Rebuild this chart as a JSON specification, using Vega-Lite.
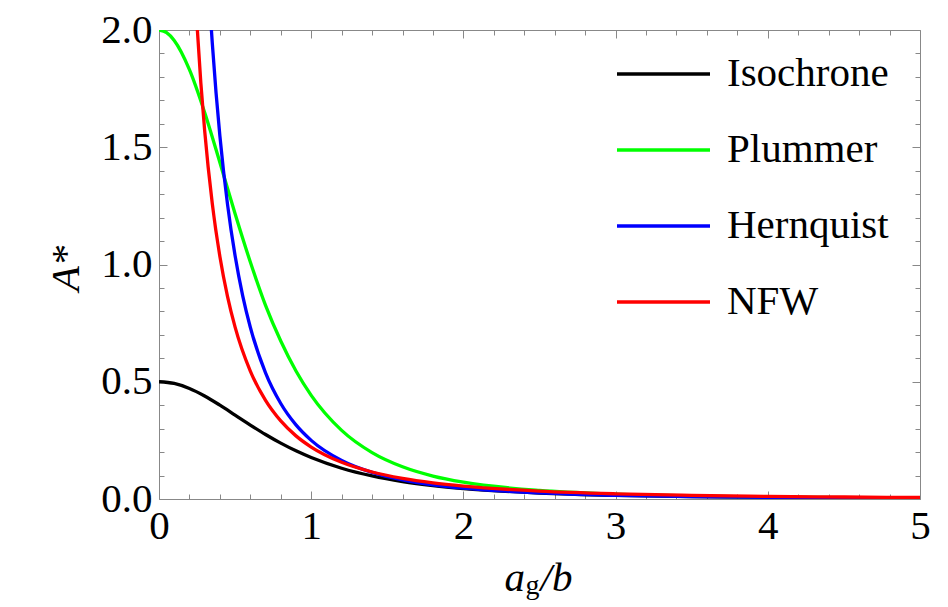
{
  "$schema": "https://vega.github.io/schema/vega-lite/v6.json",
  "width": 761,
  "height": 469,
  "autosize": "none",
  "padding": {"left": 159, "top": 30, "right": 28, "bottom": 108},
  "background": "white",
  "config": {
    "view": {"stroke": "#888888", "strokeWidth": 1},
    "axis": {
      "grid": false,
      "domain": false,
      "tickColor": "#888888",
      "tickWidth": 1,
      "labelFont": "Liberation Serif",
      "labelFontSize": 41,
      "labelColor": "black",
      "labelFlush": false,
      "labelOverlap": false,
      "titleColor": "black",
      "titleFontWeight": "normal"
    }
  },
  "layer": [
    {
      "data": {
        "values": [
          {"model": "Isochrone", "a": 0, "A": 0.5},
          {"model": "Isochrone", "a": 0.1, "A": 0.4926},
          {"model": "Isochrone", "a": 0.2, "A": 0.4714},
          {"model": "Isochrone", "a": 0.3, "A": 0.4394},
          {"model": "Isochrone", "a": 0.4, "A": 0.4002},
          {"model": "Isochrone", "a": 0.5, "A": 0.3578},
          {"model": "Isochrone", "a": 0.6, "A": 0.3153},
          {"model": "Isochrone", "a": 0.7, "A": 0.2749},
          {"model": "Isochrone", "a": 0.8, "A": 0.2381},
          {"model": "Isochrone", "a": 0.9, "A": 0.2053},
          {"model": "Isochrone", "a": 1.0, "A": 0.1768},
          {"model": "Isochrone", "a": 1.2, "A": 0.1312},
          {"model": "Isochrone", "a": 1.4, "A": 0.0982},
          {"model": "Isochrone", "a": 1.6, "A": 0.0744},
          {"model": "Isochrone", "a": 1.8, "A": 0.0573},
          {"model": "Isochrone", "a": 2.0, "A": 0.0447},
          {"model": "Isochrone", "a": 2.5, "A": 0.0256},
          {"model": "Isochrone", "a": 3.0, "A": 0.0158},
          {"model": "Isochrone", "a": 3.5, "A": 0.0104},
          {"model": "Isochrone", "a": 4.0, "A": 0.0071},
          {"model": "Isochrone", "a": 4.5, "A": 0.0051},
          {"model": "Isochrone", "a": 5.0, "A": 0.0038},
          {"model": "Plummer", "a": 0, "A": 2.0},
          {"model": "Plummer", "a": 0.05, "A": 1.9888},
          {"model": "Plummer", "a": 0.1, "A": 1.9557},
          {"model": "Plummer", "a": 0.2, "A": 1.8313},
          {"model": "Plummer", "a": 0.3, "A": 1.6486},
          {"model": "Plummer", "a": 0.4, "A": 1.4353},
          {"model": "Plummer", "a": 0.5, "A": 1.2164},
          {"model": "Plummer", "a": 0.6, "A": 1.0107},
          {"model": "Plummer", "a": 0.7, "A": 0.8254},
          {"model": "Plummer", "a": 0.8, "A": 0.6735},
          {"model": "Plummer", "a": 0.9, "A": 0.5457},
          {"model": "Plummer", "a": 1.0, "A": 0.4419},
          {"model": "Plummer", "a": 1.2, "A": 0.2925},
          {"model": "Plummer", "a": 1.4, "A": 0.1977},
          {"model": "Plummer", "a": 1.6, "A": 0.1372},
          {"model": "Plummer", "a": 1.8, "A": 0.0978},
          {"model": "Plummer", "a": 2.0, "A": 0.0716},
          {"model": "Plummer", "a": 2.5, "A": 0.0362},
          {"model": "Plummer", "a": 3.0, "A": 0.0206},
          {"model": "Plummer", "a": 3.5, "A": 0.0127},
          {"model": "Plummer", "a": 4.0, "A": 0.0084},
          {"model": "Plummer", "a": 4.5, "A": 0.0058},
          {"model": "Plummer", "a": 5.0, "A": 0.0042},
          {"model": "Hernquist", "a": 0.33, "A": 2.1446},
          {"model": "Hernquist", "a": 0.34, "A": 2.0414},
          {"model": "Hernquist", "a": 0.35, "A": 1.9451},
          {"model": "Hernquist", "a": 0.375, "A": 1.731},
          {"model": "Hernquist", "a": 0.4, "A": 1.5488},
          {"model": "Hernquist", "a": 0.45, "A": 1.2574},
          {"model": "Hernquist", "a": 0.5, "A": 1.037},
          {"model": "Hernquist", "a": 0.55, "A": 0.8666},
          {"model": "Hernquist", "a": 0.6, "A": 0.7324},
          {"model": "Hernquist", "a": 0.7, "A": 0.5379},
          {"model": "Hernquist", "a": 0.8, "A": 0.4072},
          {"model": "Hernquist", "a": 0.9, "A": 0.3159},
          {"model": "Hernquist", "a": 1.0, "A": 0.25},
          {"model": "Hernquist", "a": 1.2, "A": 0.1644},
          {"model": "Hernquist", "a": 1.4, "A": 0.1137},
          {"model": "Hernquist", "a": 1.6, "A": 0.0818},
          {"model": "Hernquist", "a": 1.8, "A": 0.0607},
          {"model": "Hernquist", "a": 2.0, "A": 0.0463},
          {"model": "Hernquist", "a": 2.5, "A": 0.0257},
          {"model": "Hernquist", "a": 3.0, "A": 0.0156},
          {"model": "Hernquist", "a": 3.5, "A": 0.0102},
          {"model": "Hernquist", "a": 4.0, "A": 0.007},
          {"model": "Hernquist", "a": 4.5, "A": 0.005},
          {"model": "Hernquist", "a": 5.0, "A": 0.0037},
          {"model": "NFW", "a": 0.24, "A": 2.1348},
          {"model": "NFW", "a": 0.25, "A": 2.0206},
          {"model": "NFW", "a": 0.275, "A": 1.7738},
          {"model": "NFW", "a": 0.3, "A": 1.5713},
          {"model": "NFW", "a": 0.35, "A": 1.2602},
          {"model": "NFW", "a": 0.4, "A": 1.0343},
          {"model": "NFW", "a": 0.45, "A": 0.8644},
          {"model": "NFW", "a": 0.5, "A": 0.733},
          {"model": "NFW", "a": 0.6, "A": 0.5454},
          {"model": "NFW", "a": 0.7, "A": 0.4204},
          {"model": "NFW", "a": 0.8, "A": 0.3329},
          {"model": "NFW", "a": 0.9, "A": 0.2692},
          {"model": "NFW", "a": 1.0, "A": 0.2216},
          {"model": "NFW", "a": 1.2, "A": 0.1564},
          {"model": "NFW", "a": 1.4, "A": 0.1152},
          {"model": "NFW", "a": 1.6, "A": 0.0878},
          {"model": "NFW", "a": 1.8, "A": 0.0686},
          {"model": "NFW", "a": 2.0, "A": 0.0548},
          {"model": "NFW", "a": 2.5, "A": 0.0336},
          {"model": "NFW", "a": 3.0, "A": 0.0222},
          {"model": "NFW", "a": 3.5, "A": 0.0155},
          {"model": "NFW", "a": 4.0, "A": 0.0113},
          {"model": "NFW", "a": 4.5, "A": 0.0085},
          {"model": "NFW", "a": 5.0, "A": 0.0066}
        ]
      },
      "mark": {"type": "line", "interpolate": "monotone", "clip": true, "strokeWidth": 3.3},
      "encoding": {
        "x": {
          "field": "a",
          "type": "quantitative",
          "scale": {"domain": [0, 5], "nice": false, "zero": false},
          "axis": {
            "orient": "bottom",
            "values": [0, 1, 2, 3, 4, 5],
            "format": "d",
            "tickSize": -8,
            "labelPadding": 15,
            "title": "a",
            "titleFont": "Liberation Serif",
            "titleFontStyle": "italic",
            "titleFontSize": 41,
            "titleAlign": "left",
            "titleBaseline": "alphabetic",
            "titleX": 345,
            "titleY": 91
          }
        },
        "y": {
          "field": "A",
          "type": "quantitative",
          "scale": {"domain": [0, 2], "nice": false, "zero": false},
          "axis": {
            "orient": "left",
            "values": [0, 0.5, 1, 1.5, 2],
            "format": ".1f",
            "tickSize": -8,
            "labelPadding": 15,
            "title": "A*",
            "titleFont": "Liberation Serif",
            "titleFontStyle": "italic",
            "titleFontSize": 41,
            "titleAngle": 270,
            "titleAlign": "center",
            "titleBaseline": "alphabetic",
            "titleX": -81,
            "titleY": 238
          }
        },
        "color": {
          "field": "model",
          "type": "nominal",
          "scale": {
            "domain": ["Isochrone", "Plummer", "Hernquist", "NFW"],
            "range": ["#000000", "#00ff00", "#0000ff", "#ff0000"]
          },
          "legend": {
            "orient": "none",
            "legendX": 456,
            "legendY": 24,
            "title": null,
            "padding": 0,
            "symbolType": "stroke",
            "symbolSize": 8649,
            "symbolStrokeWidth": 3.3,
            "symbolOffset": 0,
            "labelFont": "Liberation Serif",
            "labelFontSize": 41,
            "labelColor": "black",
            "labelOffset": 15,
            "labelLimit": 0,
            "rowPadding": 35,
            "clipHeight": 40
          }
        }
      }
    },
    {
      "data": {"values": [{}]},
      "mark": {"type": "point", "opacity": 0},
      "encoding": {
        "x": {
          "datum": 0,
          "type": "quantitative",
          "axis": {
            "orient": "bottom",
            "values": [0.2, 0.4, 0.6, 0.8, 1.2, 1.4, 1.6, 1.8, 2.2, 2.4, 2.6, 2.8, 3.2, 3.4, 3.6, 3.8, 4.2, 4.4, 4.6, 4.8],
            "tickSize": -5,
            "labels": false,
            "title": "g",
            "titleFont": "Liberation Serif",
            "titleFontSize": 28,
            "titleAlign": "left",
            "titleBaseline": "alphabetic",
            "titleX": 366,
            "titleY": 94
          }
        },
        "y": {
          "datum": 0,
          "type": "quantitative",
          "axis": {
            "orient": "left",
            "values": [0.1, 0.2, 0.3, 0.4, 0.6, 0.7, 0.8, 0.9, 1.1, 1.2, 1.3, 1.4, 1.6, 1.7, 1.8, 1.9],
            "tickSize": -5,
            "labels": false,
            "title": null
          }
        }
      }
    },
    {
      "data": {"values": [{}]},
      "mark": {"type": "point", "opacity": 0},
      "encoding": {
        "x": {
          "datum": 0,
          "type": "quantitative",
          "axis": {
            "orient": "top",
            "values": [0, 1, 2, 3, 4, 5],
            "tickSize": -8,
            "labels": false,
            "title": "/b",
            "titleFont": "Liberation Serif",
            "titleFontStyle": "italic",
            "titleFontSize": 41,
            "titleAlign": "left",
            "titleBaseline": "alphabetic",
            "titleX": 381,
            "titleY": 560
          }
        },
        "y": {
          "datum": 0,
          "type": "quantitative",
          "axis": {
            "orient": "right",
            "values": [0, 0.5, 1, 1.5, 2],
            "tickSize": -8,
            "labels": false,
            "title": null
          }
        }
      }
    },
    {
      "data": {"values": [{}]},
      "mark": {"type": "point", "opacity": 0},
      "encoding": {
        "x": {
          "datum": 0,
          "type": "quantitative",
          "axis": {
            "orient": "top",
            "values": [0.2, 0.4, 0.6, 0.8, 1.2, 1.4, 1.6, 1.8, 2.2, 2.4, 2.6, 2.8, 3.2, 3.4, 3.6, 3.8, 4.2, 4.4, 4.6, 4.8],
            "tickSize": -5,
            "labels": false,
            "title": null
          }
        },
        "y": {
          "datum": 0,
          "type": "quantitative",
          "axis": {
            "orient": "right",
            "values": [0.1, 0.2, 0.3, 0.4, 0.6, 0.7, 0.8, 0.9, 1.1, 1.2, 1.3, 1.4, 1.6, 1.7, 1.8, 1.9],
            "tickSize": -5,
            "labels": false,
            "title": null
          }
        }
      }
    }
  ],
  "resolve": {"axis": {"x": "independent", "y": "independent"}}
}
